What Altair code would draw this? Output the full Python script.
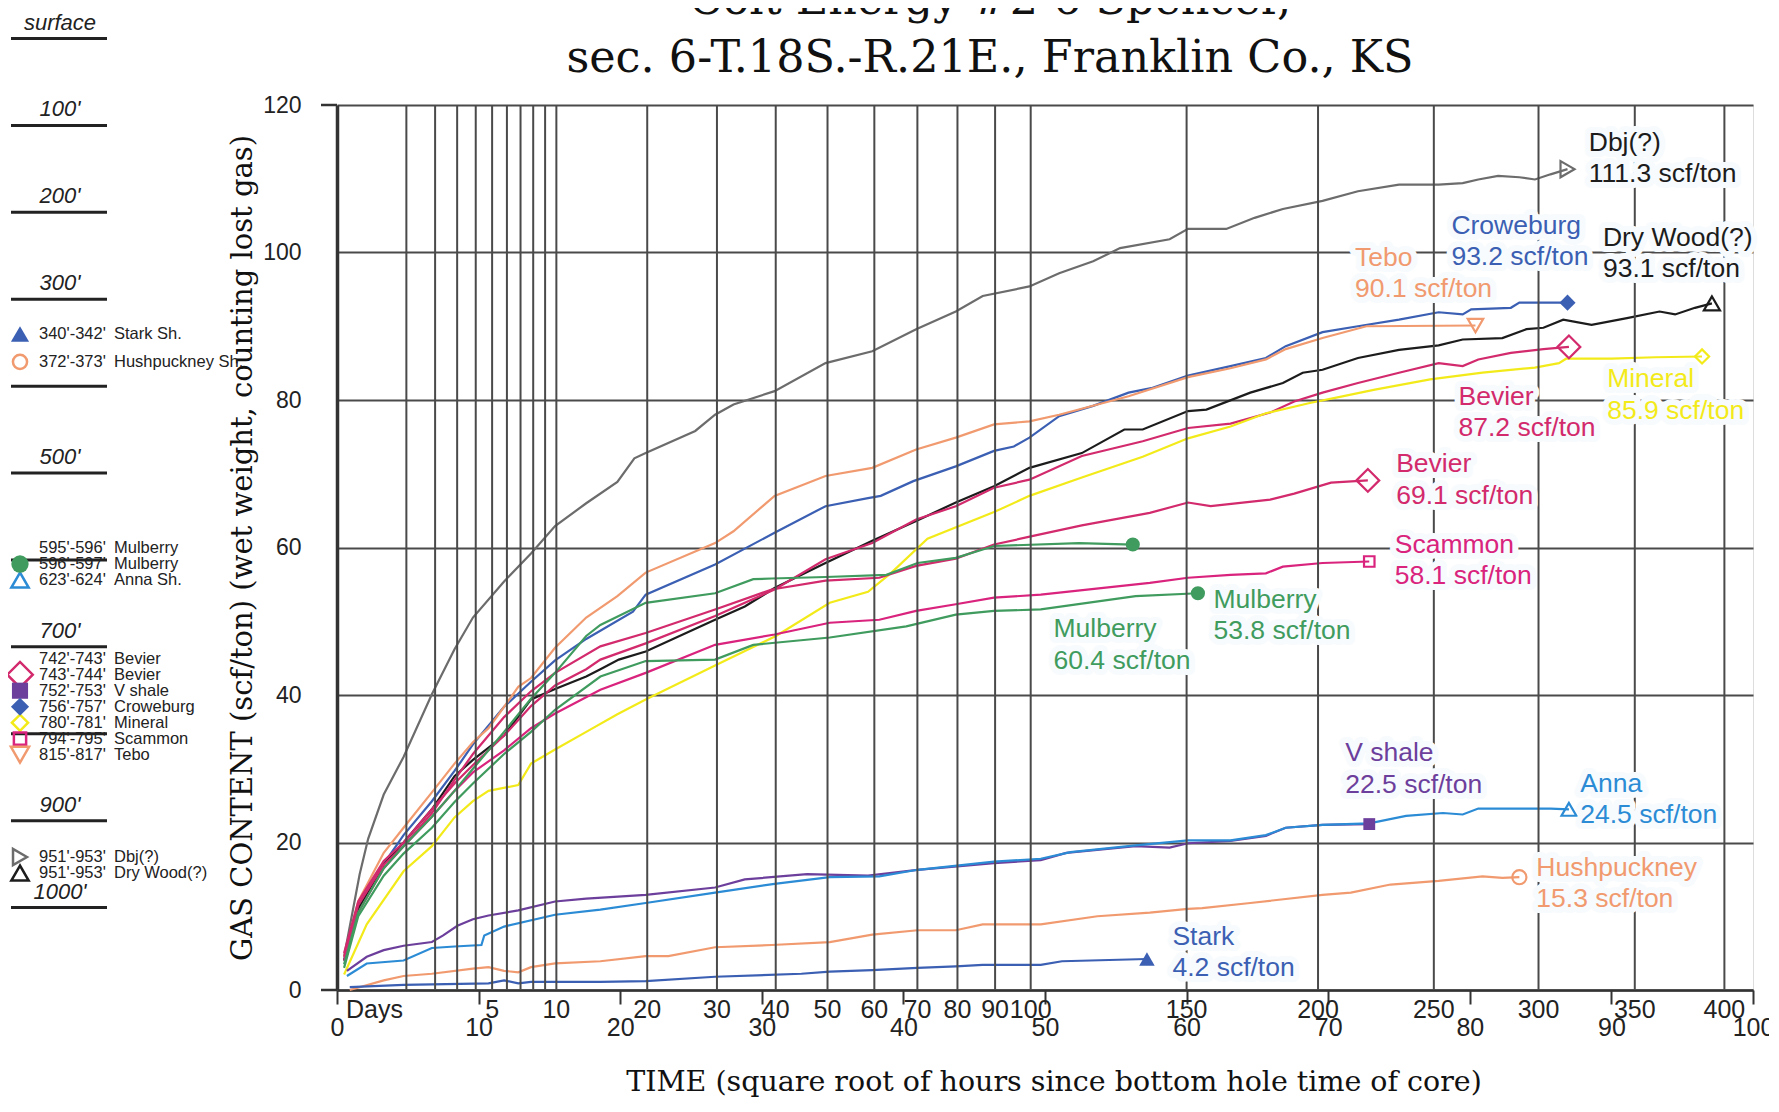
import altair as alt
import pandas as pd

# ------------------------------------------------------------------
# Series values (x = sqrt of hours, y = scf/ton)
# ------------------------------------------------------------------
dbj_x = [0.5, 1.6, 2.2, 3.3, 4.7, 6.7, 8.3, 9.6, 11.8, 13.7, 15.4, 17.6, 19.8, 21.0, 21.8, 25.3, 26.7, 28.0, 30.9, 34.5, 37.8, 40.9, 43.7, 45.6, 48.9, 51.0, 53.4, 55.3, 58.8, 60.1, 62.8, 64.8, 66.8, 69.6, 72.1, 75.0, 77.8, 79.5, 80.6, 82.0, 83.5, 84.6, 85.7, 86.9]
dbj_y = [4.5, 15.7, 20.5, 26.5, 31.6, 40.1, 46.2, 50.5, 55.4, 59.2, 62.9, 66.0, 68.9, 72.1, 72.8, 75.8, 78.0, 79.4, 81.2, 85.0, 86.6, 89.6, 92.0, 94.1, 95.4, 97.2, 98.8, 100.6, 101.8, 103.2, 103.2, 104.7, 105.9, 107.0, 108.3, 109.2, 109.2, 109.4, 109.9, 110.4, 110.2, 109.9, 110.6, 111.3]

crow_x = [0.5, 1.5, 3.3, 4.7, 6.7, 8.3, 9.6, 11.8, 13.7, 15.4, 17.6, 20.9, 21.8, 26.7, 30.9, 34.5, 37.5, 38.4, 40.7, 43.7, 46.4, 47.8, 48.9, 51.0, 53.4, 55.9, 57.5, 60.1, 63.1, 65.6, 67.0, 69.6, 72.1, 75.0, 77.8, 79.5, 80.1, 82.9, 83.5, 86.9]
crow_y = [4.0, 11.5, 17.1, 21.0, 25.6, 29.7, 33.3, 38.4, 41.8, 44.7, 47.6, 51.3, 53.6, 57.7, 62.0, 65.6, 66.7, 67.0, 69.0, 71.0, 73.1, 73.7, 74.9, 77.8, 79.2, 81.0, 81.6, 83.3, 84.6, 85.7, 87.3, 89.2, 90.0, 90.9, 91.9, 91.6, 92.3, 92.5, 93.2, 93.2]

tebo_x = [0.5, 1.5, 3.3, 4.7, 6.7, 8.3, 9.6, 10.7, 11.8, 12.8, 13.7, 15.4, 17.6, 19.8, 21.8, 26.7, 28.0, 30.9, 34.5, 37.8, 40.9, 43.7, 46.4, 48.9, 51.0, 55.9, 60.1, 63.1, 65.6, 67.0, 69.6, 72.7, 80.4]
tebo_y = [4.5, 12.0, 18.6, 22.0, 26.8, 30.7, 33.6, 35.5, 38.4, 41.1, 42.3, 46.4, 50.5, 53.4, 56.6, 60.6, 62.2, 67.0, 69.7, 70.8, 73.3, 74.9, 76.7, 77.1, 78.0, 80.5, 83.1, 84.3, 85.5, 86.9, 88.4, 90.0, 90.1]

dry_x = [0.5, 1.5, 3.3, 4.7, 6.7, 8.3, 9.6, 11.8, 13.7, 15.4, 17.6, 18.6, 19.9, 21.8, 26.7, 28.8, 30.9, 34.5, 37.8, 40.9, 43.7, 46.4, 48.9, 52.6, 55.6, 56.9, 60.1, 61.4, 64.5, 66.8, 68.2, 69.6, 72.1, 75.0, 77.8, 79.5, 82.3, 84.0, 85.2, 86.6, 88.6, 91.1, 93.4, 94.5, 95.9, 97.1]
dry_y = [4.0, 11.0, 17.0, 20.0, 24.5, 29.0, 31.2, 34.5, 39.4, 40.8, 42.5, 43.5, 44.8, 45.9, 50.2, 52.0, 54.5, 57.9, 60.9, 63.6, 66.1, 68.3, 70.8, 72.8, 76.0, 76.0, 78.5, 78.7, 81.0, 82.3, 83.7, 84.1, 85.7, 86.8, 87.4, 88.2, 88.4, 89.6, 89.8, 90.9, 90.2, 91.1, 92.0, 91.6, 92.5, 93.1]

bev1_x = [0.5, 1.5, 3.3, 4.7, 6.7, 8.3, 9.6, 11.8, 13.7, 15.4, 17.6, 18.6, 21.8, 26.7, 30.9, 34.5, 37.8, 40.9, 43.7, 46.4, 48.9, 52.6, 56.9, 60.1, 63.1, 65.9, 67.6, 69.6, 72.1, 75.0, 77.8, 79.5, 80.6, 82.9, 85.2, 87.0]
bev1_y = [5.0, 12.0, 17.5, 20.0, 24.5, 28.0, 30.5, 34.5, 38.5, 41.3, 43.5, 44.8, 47.0, 50.7, 54.3, 58.4, 60.6, 63.8, 65.6, 68.1, 69.2, 72.4, 74.4, 76.2, 76.8, 78.3, 79.8, 81.0, 82.3, 83.7, 85.0, 84.6, 85.5, 86.4, 86.9, 87.2]

min_x = [0.5, 2.1, 4.7, 6.7, 8.3, 9.6, 10.7, 12.8, 13.7, 15.4, 17.6, 19.8, 21.8, 26.7, 31.0, 34.8, 37.5, 39.1, 41.7, 46.4, 48.9, 52.6, 56.9, 60.1, 63.1, 65.6, 68.7, 71.0, 73.3, 77.2, 80.9, 84.6, 86.3, 86.8, 90.0, 93.1, 96.4]
min_y = [2.1, 8.9, 16.1, 19.5, 23.4, 25.6, 27.0, 27.8, 30.7, 32.6, 35.0, 37.4, 39.4, 44.0, 48.0, 52.5, 54.0, 56.5, 61.2, 64.8, 67.0, 69.5, 72.3, 74.8, 76.4, 78.2, 79.6, 80.5, 81.4, 82.8, 83.7, 84.4, 85.0, 85.6, 85.6, 85.8, 85.9]

bev2_x = [0.5, 1.5, 3.3, 4.7, 6.7, 8.3, 9.6, 11.8, 13.7, 15.4, 18.6, 21.8, 26.7, 30.7, 34.5, 38.3, 40.9, 43.7, 46.4, 49.0, 52.6, 57.4, 60.1, 61.7, 65.9, 67.6, 70.2, 72.8]
bev2_y = [4.5, 11.5, 17.0, 19.5, 24.0, 28.5, 32.0, 37.0, 40.5, 43.0, 46.6, 48.4, 51.6, 54.3, 55.5, 55.9, 57.5, 58.5, 60.4, 61.5, 63.0, 64.7, 66.1, 65.6, 66.5, 67.3, 68.8, 69.1]

scam_x = [0.5, 1.5, 3.3, 4.7, 6.7, 8.3, 9.6, 11.8, 13.7, 15.4, 18.6, 21.8, 26.7, 30.9, 34.8, 38.3, 40.9, 43.7, 46.4, 49.7, 57.4, 60.1, 63.1, 65.6, 66.8, 69.6, 72.9]
scam_y = [4.0, 10.5, 16.5, 19.5, 23.5, 27.0, 29.5, 32.5, 35.5, 37.5, 40.7, 43.0, 46.8, 48.2, 49.8, 50.2, 51.4, 52.3, 53.2, 53.6, 55.2, 55.9, 56.3, 56.5, 57.4, 57.9, 58.1]

mul1_x = [0.5, 1.5, 3.3, 4.7, 6.7, 8.3, 9.6, 11.8, 13.7, 15.4, 17.6, 18.6, 21.8, 26.7, 29.4, 30.7, 34.5, 38.8, 41.0, 43.7, 46.4, 52.4, 56.2]
mul1_y = [3.5, 10.5, 16.5, 19.5, 23.5, 27.0, 30.0, 35.0, 39.5, 43.0, 48.0, 49.5, 52.5, 53.8, 55.7, 55.8, 56.0, 56.3, 57.9, 58.6, 60.2, 60.6, 60.4]

mul2_x = [0.5, 1.5, 3.3, 4.7, 6.7, 8.3, 9.6, 11.8, 13.7, 15.4, 18.6, 21.8, 26.7, 29.4, 34.8, 40.2, 43.7, 46.4, 49.7, 56.4, 60.8]
mul2_y = [3.0, 10.0, 15.5, 18.5, 22.0, 25.5, 28.0, 32.0, 35.0, 38.0, 42.5, 44.6, 44.8, 46.8, 47.8, 49.3, 50.9, 51.4, 51.6, 53.4, 53.8]

vsh_x = [0.7, 2.1, 3.3, 4.7, 6.7, 7.5, 8.5, 9.6, 10.7, 12.8, 15.4, 17.6, 21.8, 26.7, 28.8, 33.2, 37.5, 41.0, 46.4, 49.7, 51.5, 56.4, 58.8, 60.1, 63.1, 65.6, 67.0, 69.6, 72.9]
vsh_y = [2.6, 4.5, 5.4, 6.0, 6.5, 7.4, 8.7, 9.6, 10.1, 10.8, 12.0, 12.4, 12.9, 13.9, 15.0, 15.7, 15.5, 16.3, 17.2, 17.6, 18.6, 19.5, 19.3, 19.9, 20.2, 20.9, 22.0, 22.4, 22.5]

anna_x = [0.7, 2.1, 4.7, 6.7, 8.3, 10.2, 10.4, 11.8, 15.4, 18.6, 21.8, 26.7, 30.9, 34.8, 38.3, 41.0, 46.4, 49.7, 51.8, 56.4, 60.1, 63.1, 65.6, 67.0, 69.6, 72.9, 75.5, 78.1, 79.5, 80.6, 85.7, 87.0]
anna_y = [1.9, 3.6, 4.0, 5.7, 5.9, 6.1, 7.4, 8.6, 10.2, 10.9, 11.8, 13.2, 14.4, 15.3, 15.4, 16.3, 17.4, 17.8, 18.7, 19.6, 20.3, 20.3, 21.0, 22.0, 22.4, 22.6, 23.6, 24.0, 23.8, 24.6, 24.6, 24.5]

hush_x = [0.9, 3.3, 4.7, 6.7, 9.6, 10.7, 11.8, 12.8, 13.7, 15.4, 18.6, 21.8, 23.4, 26.7, 30.7, 34.8, 37.8, 41.0, 43.7, 45.6, 49.7, 53.7, 57.4, 60.1, 61.1, 64.5, 69.6, 71.6, 74.4, 77.8, 80.9, 82.3, 83.5]
hush_y = [0.0, 1.3, 1.9, 2.2, 2.9, 3.1, 2.6, 2.4, 3.1, 3.6, 3.9, 4.6, 4.6, 5.8, 6.1, 6.5, 7.5, 8.1, 8.1, 8.9, 8.9, 10.0, 10.5, 11.0, 11.1, 11.8, 12.9, 13.2, 14.3, 14.8, 15.4, 15.2, 15.3]

stark_x = [0.9, 4.7, 10.7, 11.8, 12.8, 13.7, 18.6, 21.8, 26.7, 32.8, 34.8, 37.8, 41.0, 43.7, 45.6, 49.7, 51.2, 57.2]
stark_y = [0.4, 0.7, 0.9, 1.3, 0.9, 1.1, 1.1, 1.2, 1.8, 2.2, 2.5, 2.7, 3.0, 3.2, 3.4, 3.4, 3.9, 4.2]

# series keys, label texts
keys = ["dbj", "crow", "dry", "tebo", "bev1", "min", "bev2", "scam", "mul1", "mul2", "vsh", "anna", "hush", "stark"]
lab_name = ["Dbj(?)", "Croweburg", "Dry Wood(?)", "Tebo", "Bevier", "Mineral", "Bevier", "Scammon",
            "Mulberry", "Mulberry", "V shale", "Anna", "Hushpuckney", "Stark"]
lab_value = ["111.3 scf/ton", "93.2 scf/ton", "93.1 scf/ton", "90.1 scf/ton", "87.2 scf/ton", "85.9 scf/ton",
             "69.1 scf/ton", "58.1 scf/ton", "60.4 scf/ton", "53.8 scf/ton", "22.5 scf/ton", "24.5 scf/ton",
             "15.3 scf/ton", "4.2 scf/ton"]

# axis values
y_ticks = [0, 20, 40, 60, 80, 100, 120]
x_ticks = [0, 10, 20, 30, 40, 50, 60, 70, 80, 90, 100]
grid_days = [1, 2, 3, 4, 5, 6, 7, 8, 9, 10, 20, 30, 40, 50, 60, 70, 80, 90, 100, 150, 200, 250, 300, 350, 400]
label_days = [5, 10, 20, 30, 40, 50, 60, 70, 80, 90, 100, 150, 200, 250, 300, 350, 400]

# left depth column
depth_lines = [0, 100, 200, 300, 400, 500, 600, 700, 800, 900, 1000]
depth_label_at = [0, 100, 200, 300, 500, 700, 900, 1000]
depth_label_txt = ["surface", "100'", "200'", "300'", "500'", "700'", "900'", "1000'"]
leg_range = ["340'-342'", "372'-373'", "595'-596'", "596'-597'", "623'-624'", "742'-743'", "743'-744'",
             "752'-753'", "756'-757'", "780'-781'", "794'-795'", "815'-817'", "951'-953'", "951'-953'"]
leg_name = ["Stark Sh.", "Hushpuckney Sh.", "Mulberry", "Mulberry", "Anna Sh.", "Bevier", "Bevier",
            "V shale", "Croweburg", "Mineral", "Scammon", "Tebo", "Dbj(?)", "Dry Wood(?)"]
leg_top = [340, 372, 595, 596, 623, 742, 743, 752, 756, 780, 794, 815, 951, 951]
leg_symbol = ["stark", "hush", None, "mul1", "anna", None, "bev1", "vsh", "crow", "min", "scam", "tebo", "dbj", "dry"]

# ------------------------------------------------------------------
# Styles / layout
# ------------------------------------------------------------------
W, H = 1416, 885
SANS = "Liberation Sans, Arial, Helvetica, sans-serif"
SERIF = "DejaVu Serif, serif"
GRID = "#4a4a4a"
INK = "#222222"
PLOT_BG = "#eef6fb"
LABEL_BG = "#f8fbfd"

COLOR = {"dbj": "#6c6c6c", "crow": "#3b5fb3", "dry": "#1c1c1c", "tebo": "#f19a6f", "bev1": "#d22a6c",
         "min": "#f3ea1a", "bev2": "#d22a6c", "scam": "#d9237d", "mul1": "#3f9b5e", "mul2": "#3f9b5e",
         "vsh": "#6d3f9c", "anna": "#2b8bd5", "hush": "#f19a6f", "stark": "#3b5fb3"}
LABEL_COLOR = dict(COLOR, dbj="#1c1c1c", dry="#1c1c1c")
MARK = {"dbj": ("triangle-right", False, 260), "crow": ("diamond", True, 260), "dry": ("triangle-up", False, 260),
        "tebo": ("triangle-down", False, 240), "bev1": ("diamond", False, 520), "min": ("diamond", False, 200),
        "bev2": ("diamond", False, 520), "scam": ("square", False, 110), "mul1": ("circle", True, 200),
        "mul2": ("circle", True, 200), "vsh": ("square", True, 140), "anna": ("triangle-up", False, 220),
        "hush": ("circle", False, 200), "stark": ("triangle-up", True, 240)}
LEG_SIZE = {"stark": 330, "hush": 200, "mul1": 300, "anna": 300, "bev1": 650, "vsh": 260, "crow": 330,
            "min": 260, "scam": 150, "tebo": 330, "dbj": 260, "dry": 300}
LAB_POS = {"dbj": (88.4, 114.9), "crow": (78.7, 103.6), "dry": (89.4, 102.0), "tebo": (71.9, 99.3),
           "bev1": (79.2, 80.4), "min": (89.7, 82.8), "bev2": (74.8, 71.3), "scam": (74.7, 60.4),
           "mul1": (50.6, 48.9), "mul2": (61.9, 52.9), "vsh": (71.2, 32.1), "anna": (87.8, 28.0),
           "hush": (84.7, 16.6), "stark": (59.0, 7.2)}
LINE2_DROP = 4.25  # second label line, in scf/ton units
LABEL_SIZE = 26.5

# depth column pixel layout (relative to plot origin)
DEPTH_SCALE = alt.Scale(domain=[0, 1000], range=[-66.5, 802.6])
DL_X0, DL_X1, DL_XC = -326, -230, -277
SYM_X, RANGE_X, NAME_X = -317, -298, -223
ROW_GAP_FT = 16 / 0.869

series_xy = {"dbj": (dbj_x, dbj_y), "crow": (crow_x, crow_y), "dry": (dry_x, dry_y), "tebo": (tebo_x, tebo_y),
             "bev1": (bev1_x, bev1_y), "min": (min_x, min_y), "bev2": (bev2_x, bev2_y),
             "scam": (scam_x, scam_y), "mul1": (mul1_x, mul1_y), "mul2": (mul2_x, mul2_y),
             "vsh": (vsh_x, vsh_y), "anna": (anna_x, anna_y), "hush": (hush_x, hush_y),
             "stark": (stark_x, stark_y)}

# ------------------------------------------------------------------
# Tables
# ------------------------------------------------------------------
rows = []
for k in keys:
    xs, ys = series_xy[k]
    for i, (a, b) in enumerate(zip(xs, ys)):
        rows.append({"key": k, "x": a, "y": b, "seq": i, "col": COLOR[k]})
lines_df = pd.DataFrame(rows)

ends = []
for k in keys:
    xs, ys = series_xy[k]
    shp, filled, sz = MARK[k]
    ends.append({"key": k, "x": xs[-1], "y": ys[-1], "shape": shp, "filled": filled, "size": sz, "col": COLOR[k]})
ends_df = pd.DataFrame(ends)

labs = []
for k, nm, val in zip(keys, lab_name, lab_value):
    lx, ly = LAB_POS[k]
    labs.append({"x": lx, "y": ly, "t": nm, "col": LABEL_COLOR[k]})
    labs.append({"x": lx, "y": ly - LINE2_DROP, "t": val, "col": LABEL_COLOR[k]})
labs_df = pd.DataFrame(labs)


def stack_rows(tops, gap):
    groups = [[i] for i in range(len(tops))]

    def span(g):
        c = sum(tops[i] for i in g) / len(g)
        s = c - (len(g) - 1) * gap / 2
        return s, s + (len(g) - 1) * gap

    merged = True
    while merged:
        merged = False
        for j in range(len(groups) - 1):
            if span(groups[j + 1])[0] - span(groups[j])[1] < gap:
                groups[j] = groups[j] + groups.pop(j + 1)
                merged = True
                break
    pos = [0.0] * len(tops)
    for g in groups:
        s, _ = span(g)
        for j, i in enumerate(g):
            pos[i] = s + j * gap
    return pos


row_d = stack_rows(leg_top, ROW_GAP_FT)
leg_df = pd.DataFrame({"d": row_d, "rng": leg_range, "nm": leg_name})
sym_rows = []
for d, s in zip(row_d, leg_symbol):
    if s is None:
        continue
    shp, filled, _ = MARK[s]
    sym_rows.append({"d": d, "shape": shp, "filled": filled, "size": LEG_SIZE[s], "col": COLOR[s]})
sym_df = pd.DataFrame(sym_rows)

# ------------------------------------------------------------------
# Main plot layers
# ------------------------------------------------------------------
XS = alt.Scale(domain=[0, 100], nice=False, zero=False)
YS = alt.Scale(domain=[0, 120], nice=False, zero=False)

x_axis = alt.Axis(values=x_ticks, grid=False, tickSize=14, tickWidth=2, tickColor="#333333",
                  labelPadding=11, labelFont=SANS, labelFontSize=25, labelColor=INK,
                  labelFlush=False, labelOverlap=False, domainColor="#333333", domainWidth=2.5, title=None)
y_axis = alt.Axis(values=y_ticks, grid=True, gridColor=GRID, gridWidth=2, ticks=False,
                  labelPadding=36, labelFont=SANS, labelFontSize=23, labelColor=INK, labelFlush=False,
                  domainColor="#333333", domainWidth=3.5, title=None)

base_lines = alt.Chart(lines_df).mark_line(strokeWidth=2.2).encode(
    x=alt.X("x:Q", scale=XS, axis=x_axis),
    y=alt.Y("y:Q", scale=YS, axis=y_axis),
    detail="key:N",
    order="seq:Q",
    color=alt.Color("col:N", scale=None),
)

day_rules = alt.Chart(pd.DataFrame({"day": grid_days})).transform_calculate(
    xd="sqrt(24 * datum.day)"
).mark_rule(color=GRID, strokeWidth=2).encode(x=alt.X("xd:Q", scale=XS))

edge_ticks = alt.Chart(pd.DataFrame({"v": [y_ticks[0], y_ticks[-1]]})).mark_rule(
    color="#333333", strokeWidth=2.5
).encode(y=alt.Y("v:Q", scale=YS), x=alt.value(-16), x2=alt.value(0))

day_labels = alt.Chart(pd.DataFrame({"day": label_days})).transform_calculate(
    xd="sqrt(24 * datum.day)", t="'' + datum.day"
).mark_text(baseline="top", font=SANS, fontSize=25, color=INK).encode(
    x=alt.X("xd:Q", scale=XS), y=alt.value(H + 8), text="t:N"
)
days_word = alt.Chart(pd.DataFrame({"t": ["Days"]})).mark_text(
    align="left", baseline="top", font=SANS, fontSize=25, color=INK
).encode(x=alt.value(9), y=alt.value(H + 8), text="t:N")

open_marks = alt.Chart(ends_df[~ends_df["filled"]]).mark_point(filled=False, strokeWidth=2.2, opacity=1).encode(
    x=alt.X("x:Q", scale=XS), y=alt.Y("y:Q", scale=YS),
    shape=alt.Shape("shape:N", scale=None), size=alt.Size("size:Q", scale=None),
    color=alt.Color("col:N", scale=None))
filled_marks = alt.Chart(ends_df[ends_df["filled"]]).mark_point(filled=True, opacity=1).encode(
    x=alt.X("x:Q", scale=XS), y=alt.Y("y:Q", scale=YS),
    shape=alt.Shape("shape:N", scale=None), size=alt.Size("size:Q", scale=None),
    color=alt.Color("col:N", scale=None))

# halo behind the series labels (the original has paper boxes behind its labels)
label_halo = alt.Chart(labs_df).mark_text(
    align="left", baseline="middle", font=SANS, fontSize=LABEL_SIZE,
    color=LABEL_BG, stroke=LABEL_BG, strokeWidth=12, strokeJoin="round"
).encode(x=alt.X("x:Q", scale=XS), y=alt.Y("y:Q", scale=YS), text="t:N")
series_labels = alt.Chart(labs_df).mark_text(align="left", baseline="middle", font=SANS, fontSize=LABEL_SIZE).encode(
    x=alt.X("x:Q", scale=XS), y=alt.Y("y:Q", scale=YS), text="t:N", color=alt.Color("col:N", scale=None))

titles = alt.Chart(pd.DataFrame({
    "t": ["Colt Energy #2-6 Spencer,", "sec. 6-T.18S.-R.21E., Franklin Co., KS"],
    "row": [0, 1]})).mark_text(font=SERIF, fontSize=44.5, color="#111111", baseline="alphabetic").encode(
    text="t:N", x=alt.value(653),
    y=alt.Y("row:Q", scale=alt.Scale(domain=[0, 1], range=[-91.3, -33.3]), axis=None))

y_title = alt.Chart(pd.DataFrame({"t": ["GAS CONTENT (scf/ton) (wet weight, counting lost gas)"]})).mark_text(
    font=SERIF, fontSize=29, color="#111111", angle=270, baseline="middle").encode(
    text="t:N", x=alt.value(-94), y=alt.value(443))
x_title = alt.Chart(pd.DataFrame({"t": ["TIME (square root of hours since bottom hole time of core)"]})).mark_text(
    font=SERIF, fontSize=28.5, color="#111111", baseline="alphabetic").encode(
    text="t:N", x=alt.value(717), y=alt.value(986))

main = alt.layer(base_lines, day_rules, edge_ticks, day_labels, days_word, open_marks, filled_marks,
                 label_halo, series_labels, y_title, x_title)

# ------------------------------------------------------------------
# Depth column on the left
# ------------------------------------------------------------------
d_rules = alt.Chart(pd.DataFrame({"d": depth_lines})).mark_rule(color=INK, strokeWidth=3).encode(
    y=alt.Y("d:Q", scale=DEPTH_SCALE, axis=None), x=alt.value(DL_X0), x2=alt.value(DL_X1))
d_labels = alt.Chart(pd.DataFrame({"d": depth_label_at, "t": depth_label_txt})).mark_text(
    font=SANS, fontSize=22, fontStyle="italic", color=INK, baseline="alphabetic", dy=-9).encode(
    y=alt.Y("d:Q", scale=DEPTH_SCALE, axis=None), x=alt.value(DL_XC), text="t:N")
leg_rng = alt.Chart(leg_df).mark_text(font=SANS, fontSize=16.5, color=INK, align="left", baseline="middle").encode(
    y=alt.Y("d:Q", scale=DEPTH_SCALE, axis=None), x=alt.value(RANGE_X), text="rng:N")
leg_nm = alt.Chart(leg_df).mark_text(font=SANS, fontSize=16.5, color=INK, align="left", baseline="middle").encode(
    y=alt.Y("d:Q", scale=DEPTH_SCALE, axis=None), x=alt.value(NAME_X), text="nm:N")
leg_open = alt.Chart(sym_df[~sym_df["filled"]]).mark_point(filled=False, strokeWidth=2.5, opacity=1).encode(
    y=alt.Y("d:Q", scale=DEPTH_SCALE, axis=None), x=alt.value(SYM_X),
    shape=alt.Shape("shape:N", scale=None), size=alt.Size("size:Q", scale=None),
    color=alt.Color("col:N", scale=None))
leg_fill = alt.Chart(sym_df[sym_df["filled"]]).mark_point(filled=True, opacity=1).encode(
    y=alt.Y("d:Q", scale=DEPTH_SCALE, axis=None), x=alt.value(SYM_X),
    shape=alt.Shape("shape:N", scale=None), size=alt.Size("size:Q", scale=None),
    color=alt.Color("col:N", scale=None))

side = alt.layer(d_rules, d_labels, leg_rng, leg_nm, leg_open, leg_fill)

chart = alt.layer(main, side, titles).resolve_scale(y="independent").properties(
    width=W, height=H,
    autosize=alt.AutoSizeParams(type="none"),
    padding={"left": 329, "top": 97, "right": 16, "bottom": 107},
).configure_view(fill=PLOT_BG, stroke=GRID, strokeWidth=2).configure(background="white")

chart.save("out.html", embed_options={"renderer": "svg", "actions": False})
